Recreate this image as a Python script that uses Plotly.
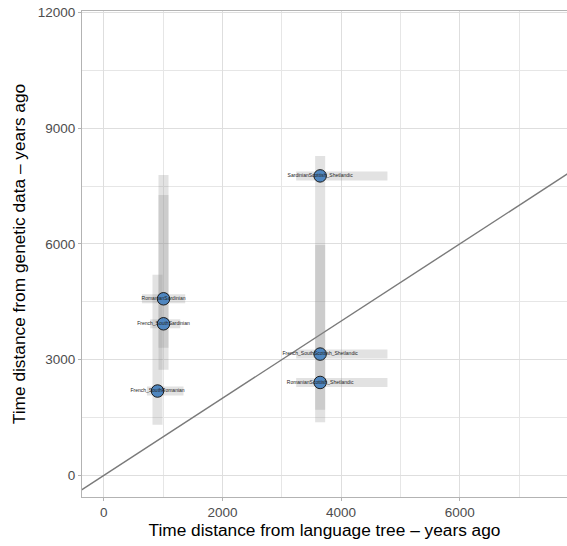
import plotly.graph_objects as go

# ---- data ----
pairs = ["RomanianSardinian", "French_SouthSardinian", "French_SouthRomanian",
         "SardinianScottish_Shetlandic", "French_SouthScottish_Shetlandic",
         "RomanianScottish_Shetlandic"]
lang_time = [1007, 1007, 906, 3647, 3647, 3647]
gen_time = [4578, 3930, 2187, 7764, 3145, 2409]
lang_low = [643, 783, 728, 3243, 3243, 3243]
lang_high = [1373, 1289, 1344, 4781, 4781, 4781]
gen_low = [2736, 3306, 1313, 5970, 1700, 1380]
gen_high = [7790, 7267, 5200, 8282, 5970, 5970]

x_ticks = [0, 2000, 4000, 6000]
y_ticks = [0, 3000, 6000, 9000, 12000]
x_range = [-367, 7808]
y_range = [-560, 12038]

FONT = "Liberation Sans, Arial, sans-serif"
BAR = "rgba(140,140,140,0.25)"

fig = go.Figure()

# identity line
fig.add_trace(go.Scatter(x=[x_range[0] - 2000, x_range[1] + 2000],
                         y=[x_range[0] - 2000, x_range[1] + 2000],
                         mode="lines", line=dict(color="#7a7a7a", width=1.4),
                         hoverinfo="skip", showlegend=False))

# uncertainty bars
for i in range(len(pairs)):
    fig.add_trace(go.Scatter(x=[lang_time[i], lang_time[i]], y=[gen_low[i], gen_high[i]],
                             mode="lines", line=dict(color=BAR, width=10),
                             hoverinfo="skip", showlegend=False))
    fig.add_trace(go.Scatter(x=[lang_low[i], lang_high[i]], y=[gen_time[i], gen_time[i]],
                             mode="lines", line=dict(color=BAR, width=9),
                             hoverinfo="skip", showlegend=False))

# points
fig.add_trace(go.Scatter(x=lang_time, y=gen_time, mode="markers",
                         marker=dict(size=12.5, color="#4f86bf",
                                     line=dict(color="#1a1a1a", width=1)),
                         showlegend=False))
# labels
fig.add_trace(go.Scatter(x=lang_time, y=gen_time, mode="text", text=pairs,
                         textposition="middle center",
                         textfont=dict(size=5, color="#222222", family=FONT),
                         showlegend=False))

axis_common = dict(showline=True, linecolor="#b3b3b3", linewidth=1,
                   ticks="outside", ticklen=3, tickcolor="#b3b3b3", tickwidth=1,
                   gridcolor="#dedede", gridwidth=1, zeroline=False,
                   tickfont=dict(family=FONT, size=13.5, color="#4d4d4d"),
                   title_font=dict(family=FONT, size=17.3, color="#000000"))

fig.update_layout(
    width=567, height=546,
    margin=dict(l=82, r=0, t=11, b=49),
    paper_bgcolor="white", plot_bgcolor="white",
    font=dict(family=FONT),
    xaxis=dict(range=x_range, tickvals=x_ticks, ticktext=[str(v) for v in x_ticks],
               mirror=True,
               minor=dict(dtick=1000, tick0=0, showgrid=True, gridcolor="#e6e6e6",
                          gridwidth=1, ticks=""),
               title=dict(text="Time distance from language tree – years ago", standoff=4),
               **axis_common),
    yaxis=dict(range=y_range, tickvals=y_ticks, ticktext=[str(v) for v in y_ticks],
               mirror=False,
               minor=dict(dtick=1500, tick0=0, showgrid=True, gridcolor="#e6e6e6",
                          gridwidth=1, ticks=""),
               title=dict(text="Time distance from genetic data – years ago", standoff=7),
               **axis_common),
)

fig.write_html("out.html")
